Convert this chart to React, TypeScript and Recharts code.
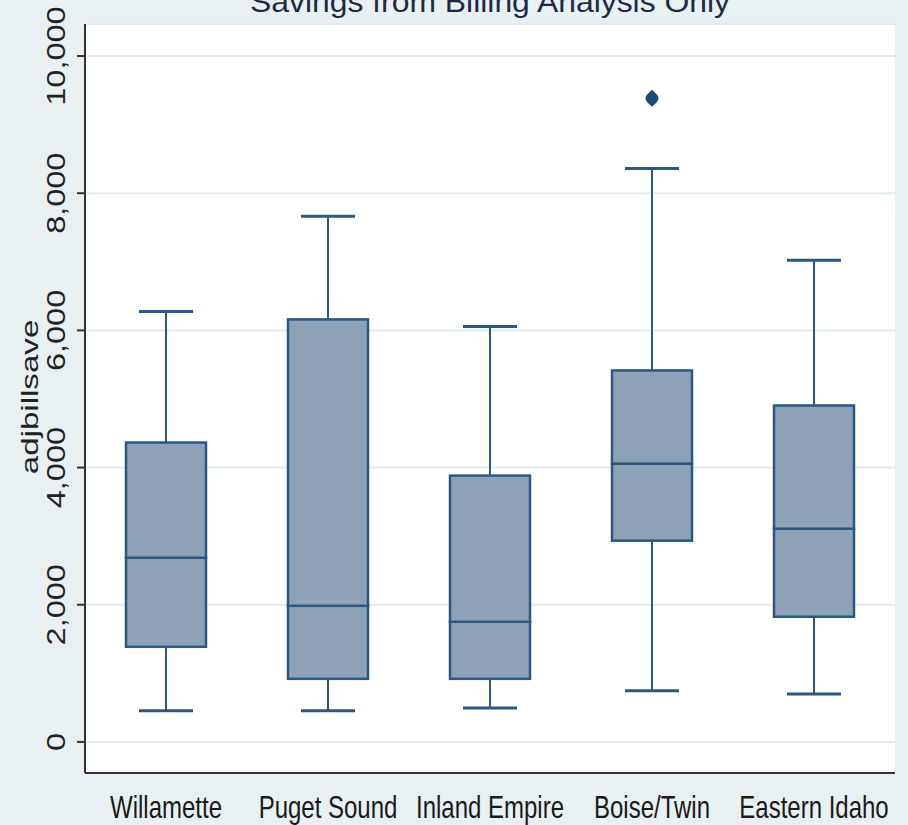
import React from 'react';
import { ComposedChart, Bar, Scatter, XAxis, YAxis, CartesianGrid } from 'recharts';

const regions = ['Willamette', 'Puget Sound', 'Inland Empire', 'Boise/Twin', 'Eastern Idaho'];
const whiskerLow = [453, 453, 496, 745, 700];
const quartile1 = [1387, 920, 920, 2934, 1825];
const medians = [2686, 1985, 1752, 4058, 3109];
const quartile3 = [4365, 6160, 3883, 5416, 4905];
const whiskerHigh = [6277, 7664, 6058, 8360, 7022];
const outliers: (number | null)[] = [null, null, null, 9383, null];
const yTicks = [0, 2000, 4000, 6000, 8000, 10000];

const FONT = '"Liberation Sans", Arial, sans-serif';
const LINE = '#2c5781';
const FILL = '#8da2b7';

// stacked segments: base (hidden), lower whisker, lower box, upper box, upper whisker
const data = regions.map((name, i) => ({
  name,
  base: whiskerLow[i],
  lowWhisker: quartile1[i] - whiskerLow[i],
  lowBox: medians[i] - quartile1[i],
  highBox: quartile3[i] - medians[i],
  highWhisker: whiskerHigh[i] - quartile3[i],
  outlier: outliers[i],
}));

const WhiskerLow = (props: any) => {
  const { x, y, width, height } = props;
  const cx = x + width / 2;
  return (
    <g>
      <line x1={cx} x2={cx} y1={y} y2={y + height} stroke={LINE} strokeWidth={2} />
      <line x1={cx - 27} x2={cx + 27} y1={y + height} y2={y + height} stroke={LINE} strokeWidth={3} />
    </g>
  );
};

const WhiskerHigh = (props: any) => {
  const { x, y, width, height } = props;
  const cx = x + width / 2;
  return (
    <g>
      <line x1={cx} x2={cx} y1={y} y2={y + height} stroke={LINE} strokeWidth={2} />
      <line x1={cx - 27} x2={cx + 27} y1={y} y2={y} stroke={LINE} strokeWidth={3} />
    </g>
  );
};

const BoxPart = (props: any) => {
  const { x, y, width, height } = props;
  return <rect x={x} y={y} width={width} height={height} fill={FILL} stroke={LINE} strokeWidth={2.5} />;
};

const Diamond = (props: any) => {
  const { cx, cy } = props;
  if (cx == null || cy == null || isNaN(cy)) return null;
  return (
    <path
      d={`M${cx},${cy - 8.5} Q${cx + 6.5},${cy - 3} ${cx + 6.5},${cy} Q${cx + 6.5},${cy + 3} ${cx},${cy + 8.5} Q${cx - 6.5},${cy + 3} ${cx - 6.5},${cy} Q${cx - 6.5},${cy - 3} ${cx},${cy - 8.5}Z`}
      fill="#1b4a73"
    />
  );
};

const YTick = (props: any) => {
  const { y, payload } = props;
  return (
    <text
      transform={`translate(65,${y}) rotate(-90) scale(1.3,1)`}
      textAnchor="middle"
      fontSize={25}
      fontFamily={FONT}
      fill="#222"
    >
      {payload.value.toLocaleString('en-US')}
    </text>
  );
};

const XTick = (props: any) => {
  const { x, payload } = props;
  return (
    <text
      transform={`translate(${x},818) scale(1,1.28)`}
      textAnchor="middle"
      fontSize={24}
      fontFamily={FONT}
      fill="#1a1a1a"
    >
      {payload.value}
    </text>
  );
};

export default function App() {
  return (
    <div style={{ position: 'absolute', left: 0, top: 0, width: 908, height: 825, background: '#e8f0f2', overflow: 'hidden' }}>
      <svg width={908} height={825} style={{ position: 'absolute', left: 0, top: 0 }}>
        <text x={490} y={12} textAnchor="middle" fontSize={30} fontFamily={FONT} fill="#1e2a44" textLength={480} lengthAdjust="spacingAndGlyphs">
          Savings from Billing Analysis Only
        </text>
        <text
          transform="translate(38,397) rotate(-90) scale(1.38,1)"
          textAnchor="middle"
          fontSize={24}
          fontFamily={FONT}
          fill="#222"
        >
          adjbillsave
        </text>
      </svg>
      <div style={{ position: 'absolute', left: 0, top: 0 }}>
        <ComposedChart width={908} height={825} data={data} margin={{ top: 24, right: 13, bottom: 0, left: 0 }}>
          <CartesianGrid vertical={false} stroke="#e2ecee" strokeWidth={2} fill="#ffffff" />
          <XAxis
            dataKey="name"
            height={52}
            axisLine={{ stroke: '#333', strokeWidth: 2 }}
            tickLine={false}
            tick={<XTick />}
            interval={0}
          />
          <YAxis
            type="number"
            width={85}
            domain={[-453, 10467]}
            ticks={yTicks}
            allowDataOverflow
            axisLine={{ stroke: '#333', strokeWidth: 2 }}
            tickLine={{ stroke: '#333', strokeWidth: 2 }}
            tickSize={8}
            tick={<YTick />}
          />
          <Bar dataKey="base" stackId="box" fill="transparent" barSize={80} isAnimationActive={false} />
          <Bar dataKey="lowWhisker" stackId="box" barSize={80} shape={<WhiskerLow />} isAnimationActive={false} />
          <Bar dataKey="lowBox" stackId="box" barSize={80} shape={<BoxPart />} isAnimationActive={false} />
          <Bar dataKey="highBox" stackId="box" barSize={80} shape={<BoxPart />} isAnimationActive={false} />
          <Bar dataKey="highWhisker" stackId="box" barSize={80} shape={<WhiskerHigh />} isAnimationActive={false} />
          <Scatter dataKey="outlier" shape={<Diamond />} isAnimationActive={false} />
        </ComposedChart>
      </div>
    </div>
  );
}
